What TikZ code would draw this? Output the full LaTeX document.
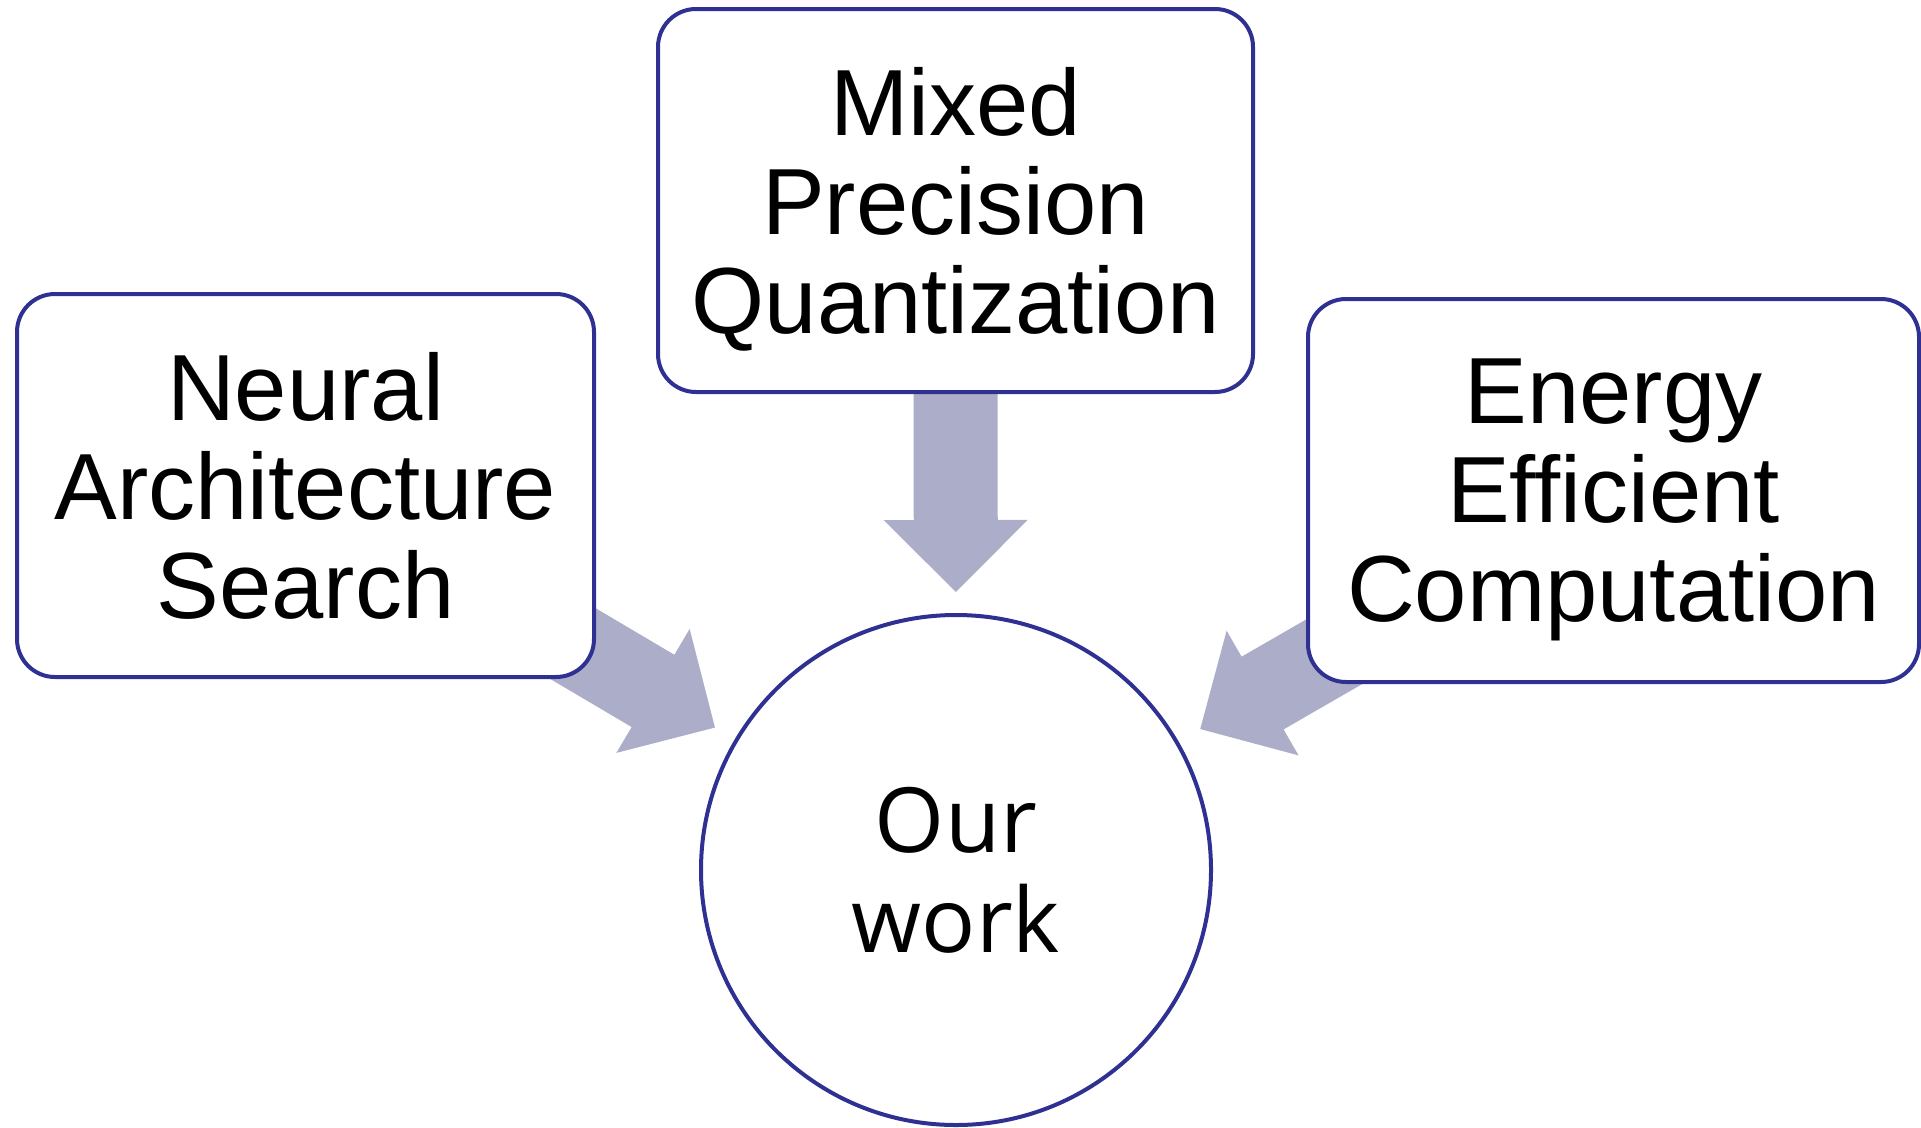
\documentclass[tikz,border=0pt]{standalone}
\usepackage{fontspec}
\setmainfont{Liberation Sans}
\newfontfamily\roundsans{Open Sans}
\usetikzlibrary{calc}

\definecolor{edgeblue}{RGB}{46,49,146}
\definecolor{flowfill}{RGB}{172,174,201}

\pgfdeclarelayer{back}
\pgfsetlayers{back,main}

% Broad flat arrow from node #1 to the point #2 (shaft 84, head 144 wide, 72 long)
\newcommand{\fatarrow}[3]{%
  \coordinate (#3) at ($(#2)!72pt!(#1)$);
  \fill[flowfill]
    ($(#1)!42pt!90:(#2)$) --
    ($(#3)!42pt!-90:(#1)$) --
    ($(#3)!72pt!-90:(#1)$) --
    (#2) --
    ($(#3)!72pt!90:(#1)$) --
    ($(#3)!42pt!90:(#1)$) --
    ($(#1)!42pt!-90:(#2)$) -- cycle;
}

\tikzset{
  topic/.style={draw=edgeblue, line width=4pt, fill=white, rounded corners=38pt,
    minimum height=383pt, inner sep=0pt, align=center, text depth=0pt,
    font=\fontsize{94}{99}\selectfont},
  hub/.style={circle, draw=edgeblue, line width=4pt, fill=white,
    minimum size=510pt, inner sep=0pt, align=center,
    font=\roundsans\fontsize{90}{100}\selectfont}
}

\begin{document}
\begin{tikzpicture}[x=1pt, y=-1pt]
  \useasboundingbox (0,0) rectangle (1921,1127);

  \node[topic, minimum width=577pt] (nas) at (305.5,485.5) {Neural\\Architecture\\Search};
  \node[topic, minimum width=595pt] (mpq) at (955.5,200.5) {Mixed\\Precision\\Quantization};
  \node[topic, minimum width=611pt] (eec) at (1613.5,490.5) {Energy\\Efficient\\Computation};
  \node[hub] (work) at (956,870) {Our\\work};

  \coordinate (tipnas) at ($(work.center)!280pt!(nas.center)$);
  \coordinate (tipmpq) at ($(work.center)!278pt!(mpq.center)$);
  \coordinate (tipeec) at ($(work.center)!282pt!(eec.center)$);

  \begin{pgfonlayer}{back}
    \fatarrow{nas.center}{tipnas}{basenas}
    \fatarrow{mpq.center}{tipmpq}{basempq}
    \fatarrow{eec.center}{tipeec}{baseeec}
  \end{pgfonlayer}
\end{tikzpicture}
\end{document}
